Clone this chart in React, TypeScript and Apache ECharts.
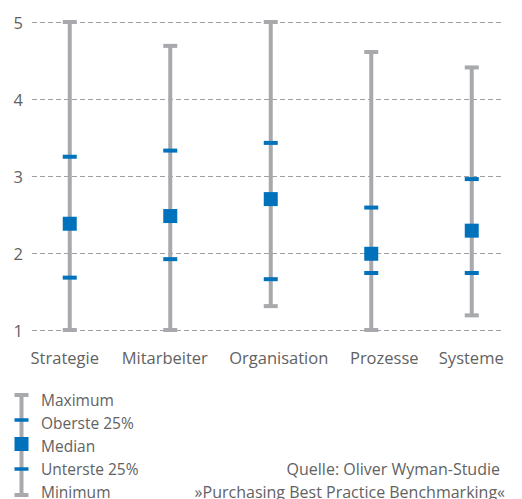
import React, { useEffect, useRef } from "react";
import * as echarts from "echarts";

// Benchmark scores per purchasing dimension (scale 1–5)
const categories = ["Strategie", "Mitarbeiter", "Organisation", "Prozesse", "Systeme"];
const maxima = [5, 4.69, 5, 4.61, 4.41];
const upperQuartile = [3.25, 3.33, 3.43, 2.59, 2.96];
const medians = [2.38, 2.48, 2.7, 1.99, 2.29];
const lowerQuartile = [1.68, 1.92, 1.66, 1.74, 1.74];
const minima = [1, 1, 1.31, 1, 1.19];

const yTicks = [1, 2, 3, 4, 5];

// horizontal nudge (px) of each category label relative to its whisker
const labelShift = [-5, -5.5, 8, 13, -0.5];

const legendLabels = ["Maximum", "Oberste 25%", "Median", "Unterste 25%", "Minimum"];
const sourceLines = ["Quelle: Oliver Wyman-Studie", "»Purchasing Best Practice Benchmarking«"];

const GRAY = "#a7a9ac";
const BLUE = "#0072bc";
const TEXT = "#626262";
const FONT = "'Open Sans', 'Noto Sans', sans-serif";

export default function App() {
  const ref = useRef<HTMLDivElement>(null);

  useEffect(() => {
    if (!ref.current) return;
    const chart = echarts.init(ref.current, undefined, { renderer: "svg" });

    const rows = categories.map((_, i) => [
      i,
      minima[i],
      lowerQuartile[i],
      medians[i],
      upperQuartile[i],
      maxima[i],
    ]);

    const categoryItems = categories.map((c, i) => {
      const s = labelShift[i] * 2;
      return {
        value: c,
        textStyle: { padding: s >= 0 ? [0, 0, 0, s] : [0, -s, 0, 0] },
      };
    });

    const renderItem = (params: any, api: any) => {
      const idx = api.value(0);
      const pMin = api.coord([idx, api.value(1)]);
      const pQ1 = api.coord([idx, api.value(2)]);
      const pMed = api.coord([idx, api.value(3)]);
      const pQ3 = api.coord([idx, api.value(4)]);
      const pMax = api.coord([idx, api.value(5)]);
      const x = pMin[0];
      const w = 14;
      const bar = (y: number, h: number, color: string) => ({
        type: "rect",
        shape: { x: x - w / 2, y: y - h / 2, width: w, height: h },
        style: { fill: color },
      });
      return {
        type: "group",
        children: [
          {
            type: "line",
            shape: { x1: x, y1: pMin[1], x2: x, y2: pMax[1] },
            style: { stroke: GRAY, lineWidth: 4 },
          },
          bar(pMax[1], 4, GRAY),
          bar(pMin[1], 4, GRAY),
          bar(pQ3[1], 4, BLUE),
          bar(pQ1[1], 4, BLUE),
          bar(pMed[1], 14, BLUE),
        ],
      };
    };

    // Legend key drawn as a small whisker glyph with labels
    const lx = 21.5;
    const legendRowsY = [399.5, 422.5, 445.5, 468.5, 491.5];
    const keyRect = (y: number, h: number, color: string) => ({
      type: "rect",
      shape: { x: lx - 7, y: y - h / 2, width: 14, height: h },
      style: { fill: color },
    });
    const legendGraphic: any[] = [
      {
        type: "line",
        shape: { x1: lx, y1: 395, x2: lx, y2: 495 },
        style: { stroke: GRAY, lineWidth: 4 },
      },
      keyRect(395, 4, GRAY),
      keyRect(495, 4, GRAY),
      keyRect(420, 3.5, BLUE),
      keyRect(469, 3.5, BLUE),
      keyRect(444, 14, BLUE),
      ...legendLabels.map((t, i) => ({
        type: "text",
        x: 41,
        y: legendRowsY[i],
        style: {
          text: t,
          fill: TEXT,
          font: `15.5px ${FONT}`,
          verticalAlign: "middle",
          align: "left",
        },
      })),
      {
        type: "text",
        x: 500,
        y: 468.5,
        style: {
          text: sourceLines[0],
          fill: TEXT,
          font: `16px ${FONT}`,
          verticalAlign: "middle",
          align: "right",
        },
      },
      {
        type: "text",
        x: 505,
        y: 491.5,
        style: {
          text: sourceLines[1],
          fill: TEXT,
          font: `16px ${FONT}`,
          verticalAlign: "middle",
          align: "right",
        },
      },
    ];

    chart.setOption({
      animation: false,
      grid: [
        // grid for value scale and dashed guide lines
        { left: 32, top: 22, width: 471, height: 308 },
        // grid for categories and whisker marks
        { left: 19.5, top: 22, width: 505, height: 308 },
      ],
      xAxis: [
        { type: "value", gridIndex: 0, min: 0, max: 1, show: false },
        {
          type: "category",
          gridIndex: 1,
          data: categoryItems,
          axisLine: { show: false },
          axisTick: { show: false },
          axisLabel: {
            color: TEXT,
            fontFamily: FONT,
            fontSize: 16.5,
            margin: 19,
            interval: 0,
            hideOverlap: false,
          },
        },
      ],
      yAxis: [
        {
          type: "value",
          gridIndex: 0,
          min: yTicks[0],
          max: yTicks[yTicks.length - 1],
          interval: 1,
          axisLine: { show: false },
          axisTick: { show: false },
          axisLabel: {
            color: TEXT,
            fontFamily: FONT,
            fontSize: 16.5,
            margin: 9,
          },
          splitLine: {
            lineStyle: { color: "#a0a0a0", type: [5, 3], width: 1 },
          },
        },
        {
          type: "value",
          gridIndex: 1,
          min: yTicks[0],
          max: yTicks[yTicks.length - 1],
          show: false,
          splitLine: { show: false },
        },
      ],
      series: [
        {
          type: "custom",
          xAxisIndex: 1,
          yAxisIndex: 1,
          data: rows,
          encode: { x: 0, y: [1, 2, 3, 4, 5] },
          renderItem,
          z: 5,
        },
      ],
      graphic: legendGraphic,
    });

    return () => chart.dispose();
  }, []);

  return (
    <div
      ref={ref}
      style={{ position: "fixed", left: 0, top: 0, width: 522, height: 499, background: "#fff" }}
    />
  );
}
